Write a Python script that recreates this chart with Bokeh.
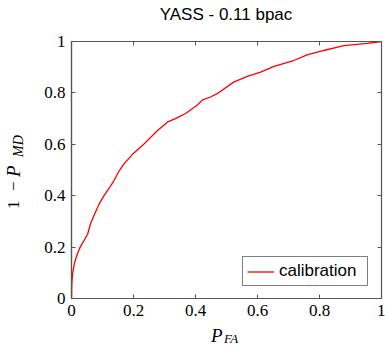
from bokeh.plotting import figure
from bokeh.layouts import column, row
from bokeh.models import LinearAxis, Legend, LegendItem, FixedTicker, Range1d, CustomJSTickFormatter, Div
from bokeh.embed import file_html
from bokeh.resources import INLINE

# ROC curve (false-alarm rate vs. detection rate) for the calibration run
p_fa = [0.0, 0.001, 0.004, 0.010, 0.018, 0.028, 0.040, 0.052, 0.061, 0.075,
        0.090, 0.105, 0.122, 0.137, 0.153, 0.170, 0.196, 0.233, 0.276, 0.309,
        0.335, 0.368, 0.405, 0.422, 0.448, 0.470, 0.523, 0.567, 0.610, 0.653,
        0.717, 0.760, 0.814, 0.878, 0.954, 1.0]
one_minus_p_md = [0.0, 0.06, 0.10, 0.14, 0.17, 0.20, 0.225, 0.25, 0.29, 0.33,
                  0.37, 0.40, 0.43, 0.459, 0.495, 0.525, 0.56, 0.60, 0.652, 0.686,
                  0.70, 0.72, 0.752, 0.772, 0.784, 0.797, 0.842, 0.864, 0.881, 0.903,
                  0.926, 0.948, 0.965, 0.984, 0.993, 1.0]
series_name = "calibration"
title_text = "YASS - 0.11 bpac"
ticks = [0, 0.2, 0.4, 0.6, 0.8, 1]
tick_labels = ["0", "0.2", "0.4", "0.6", "0.8", "1"]

SERIF = "Liberation Serif"
SANS = "Liberation Sans"
AXIS_GRAY = "#555555"

# page layout (pixels): title strip on top, then y-label strip | figure,
# then the x-label strip; the plot frame spans x 71..381 and y 41..298
W, H = 385, 345
TITLE_H = 26
YLAB_W = 30
XLAB_H = 20
FIG_W, FIG_H = W - YLAB_W, H - TITLE_H - XLAB_H
FRAME_TOP, FRAME_BOTTOM, FRAME_LEFT = 41, 298, 71

p = figure(width=FIG_W, height=FIG_H, output_backend="svg", toolbar_location=None,
           x_range=Range1d(0, 1), y_range=Range1d(0, 1),
           min_border_left=FRAME_LEFT - YLAB_W, min_border_right=4,
           min_border_top=FRAME_TOP - TITLE_H,
           min_border_bottom=TITLE_H + FIG_H - FRAME_BOTTOM)

p.grid.visible = False
p.outline_line_color = AXIS_GRAY
p.outline_line_width = 1.2
p.background_fill_color = "white"
p.border_fill_color = "white"

overrides = {t: s for t, s in zip(ticks, tick_labels)}
for ax in (p.xaxis[0], p.yaxis[0]):
    ax.ticker = FixedTicker(ticks=ticks)
    ax.major_label_overrides = overrides
    ax.major_label_text_font = SERIF
    ax.major_label_text_font_size = "17px"
    ax.major_label_text_color = "black"
    ax.major_tick_in = 4
    ax.major_tick_out = 0
    ax.minor_tick_line_color = None
    ax.major_tick_line_color = AXIS_GRAY
    ax.axis_line_color = AXIS_GRAY
    ax.axis_line_width = 1.2
p.xaxis[0].major_label_standoff = 6
p.yaxis[0].major_label_standoff = 6

# mirrored ticks on the top and right edges of the frame, without labels
for side in ("above", "right"):
    ax = LinearAxis(ticker=FixedTicker(ticks=ticks),
                    formatter=CustomJSTickFormatter(code="return ''"))
    ax.major_label_text_font_size = "1px"
    ax.major_label_standoff = 0
    ax.major_tick_in = 4
    ax.major_tick_out = 0
    ax.minor_tick_line_color = None
    ax.major_tick_line_color = AXIS_GRAY
    ax.axis_line_color = None
    p.add_layout(ax, side)

line = p.line(p_fa, one_minus_p_md, line_color="red", line_width=1.3)

legend = Legend(items=[LegendItem(label=series_name, renderers=[line])],
                location=(171, 12))
legend.label_text_font = SANS
legend.label_text_font_size = "17px"
legend.label_text_color = "black"
legend.border_line_color = "black"
legend.border_line_width = 1
legend.background_fill_alpha = 1
legend.glyph_width = 27
legend.glyph_height = 17
legend.label_height = 17
legend.label_width = 84
legend.label_standoff = 5
legend.padding = 4
legend.spacing = 0
legend.margin = 0
p.add_layout(legend)

# font metrics (ascent, descent) used to put a baseline at an exact pixel
METRICS = {SERIF: (0.891, 0.216), SANS: (0.905, 0.212)}


def piece(text, left, baseline, size, font=SERIF, italic=False, rotated=False, extra=""):
    asc, desc = METRICS[font]
    lh = 0.85 * size
    off = (lh - (asc + desc) * size) / 2 + asc * size   # baseline inside the line box
    style = (f"position:absolute;white-space:nowrap;font-family:'{font}';"
             f"font-size:{size}px;line-height:{lh:.2f}px;color:#000;"
             f"font-style:{'italic' if italic else 'normal'};{extra}")
    if rotated:
        # text runs upward from (left, baseline); the baseline is the vertical line x=left
        style += (f"left:{left - off:.1f}px;top:{baseline:.1f}px;"
                  "transform-origin:0 0;transform:rotate(-90deg);")
    else:
        style += f"left:{left:.1f}px;top:{baseline - off:.1f}px;"
    return f'<div style="{style}">{text}</div>'


def strip(width, height, pieces):
    return (f'<div style="position:relative;width:{width}px;height:{height}px;">'
            + "".join(pieces) + "</div>")


# title, centred over the frame
title = Div(width=W, height=TITLE_H, margin=0, text=strip(W, TITLE_H, [
    piece(title_text, FRAME_LEFT, 21, 17, font=SANS,
          extra="width:310px;text-align:center;"),
]))

# 1 - P_MD, set vertically (positions are page pixels, shifted into the strip)
y0 = TITLE_H
ylab = Div(width=YLAB_W, height=FIG_H, margin=0, text=strip(YLAB_W, FIG_H, [
    piece("1", 20, 209 - y0, 17, rotated=True),
    piece("\u2212", 20, 191 - y0, 17, rotated=True),
    piece("P", 20.5, 176.5 - y0, 19, italic=True, rotated=True),
    piece("MD", 23.5, 157 - y0, 14, italic=True, rotated=True),
]))

# P_FA under the x axis
x0 = TITLE_H + FIG_H
xlab = Div(width=W, height=XLAB_H, margin=0, text=strip(W, XLAB_H, [
    piece("P", 211, 342.6 - x0, 19, italic=True),
    piece("FA", 224, 343.0 - x0, 13, italic=True),
]))

page = column(title, row(ylab, p, spacing=0), xlab, spacing=0)

open("out.html", "w").write(file_html(page, INLINE))
